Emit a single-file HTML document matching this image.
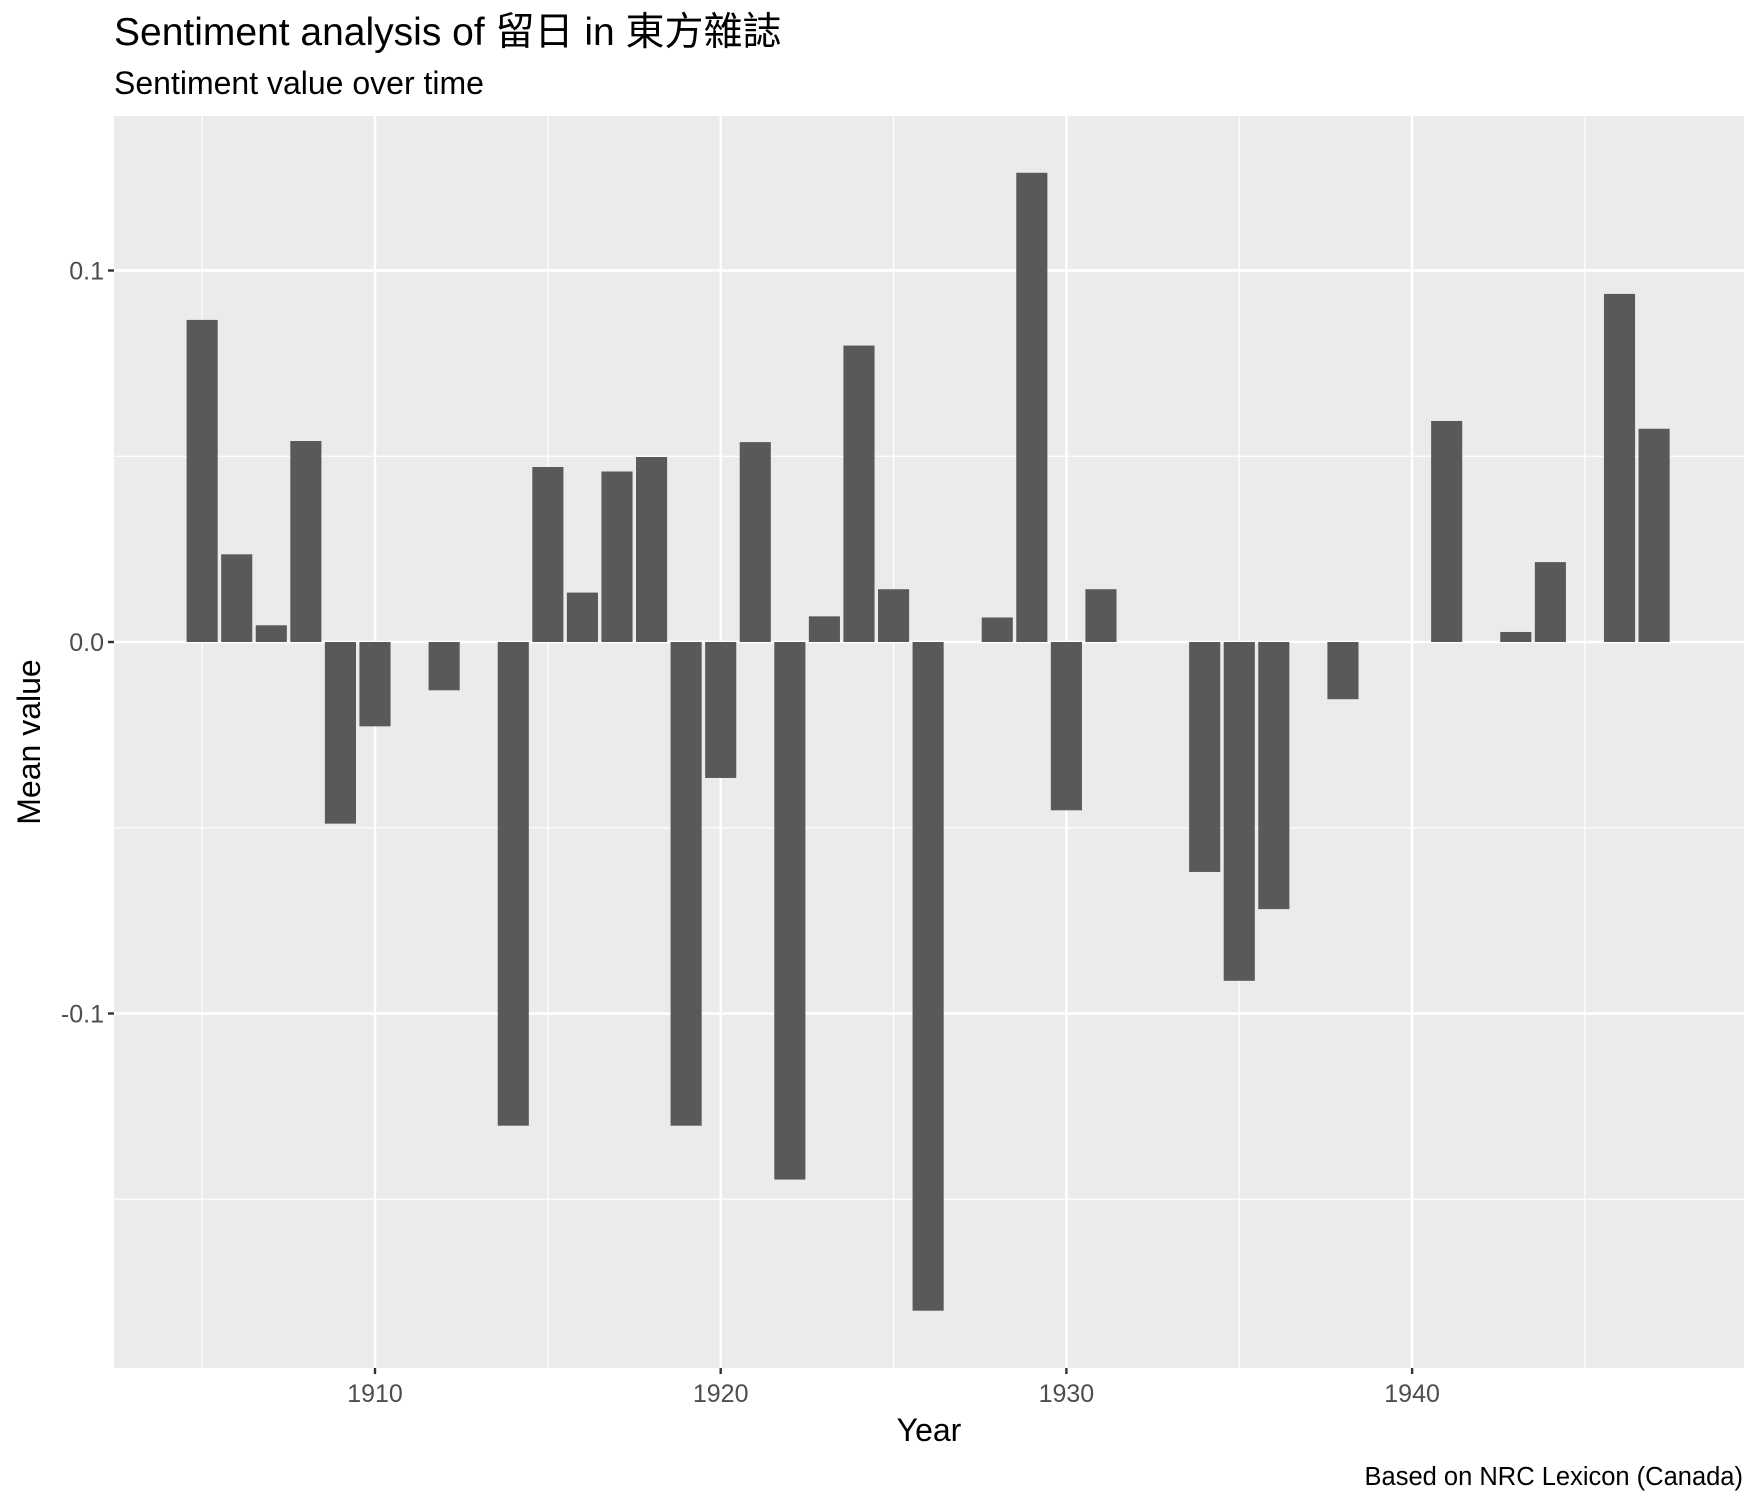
<!DOCTYPE html>
<html><head><meta charset="utf-8"><style>
html,body{margin:0;padding:0;background:#fff;}
svg text{font-family:"Liberation Sans","Noto Sans CJK TC",sans-serif;}
</style></head><body>
<svg id="chart" width="1760" height="1504" xmlns="http://www.w3.org/2000/svg">
<text x="114" y="45" font-size="39" fill="#000">Sentiment analysis of 留日 in 東方雜誌</text>
<text x="114" y="94" font-size="32" fill="#000">Sentiment value over time</text>
<rect x="114" y="116" width="1630" height="1252" fill="#ebebeb"/>
<g id="grid"></g>
<g id="bars"></g>
<g id="axes"></g>
<text x="929" y="1441" font-size="32" text-anchor="middle" fill="#000">Year</text>
<text transform="translate(40,742) rotate(-90)" font-size="32" text-anchor="middle" fill="#000">Mean value</text>
<text x="1743" y="1485" font-size="25.5" text-anchor="end" fill="#000">Based on NRC Lexicon (Canada)</text>
</svg>
<script>
const years = [1905,1906,1907,1908,1909,1910,1912,1914,1915,1916,1917,1918,1919,1920,1921,1922,1923,1924,1925,1926,1928,1929,1930,1931,1934,1935,1936,1938,1941,1943,1944,1946,1947];
const values = [0.0867,0.0236,0.0045,0.0541,-0.0489,-0.0227,-0.013,-0.1302,0.0471,0.0133,0.0459,0.0498,-0.1302,-0.0366,0.0538,-0.1447,0.0069,0.0798,0.0142,-0.180,0.0066,0.1263,-0.0453,0.0142,-0.0619,-0.0912,-0.0719,-0.0154,0.0595,0.0027,0.0215,0.0937,0.0574];
const xTicks = [1910,1920,1930,1940];
const xMinor = [1905,1915,1925,1935,1945];
const yTicks = [0.1,0.0,-0.1];
const yTickLabels = ["0.1","0.0","-0.1"];
const yMinor = [0.05,-0.05,-0.15];

const NS="http://www.w3.org/2000/svg";
const PL=114,PR=1744,PT=116,PB=1368;
function xs(y){return 375+(y-1910)*34.57;}
function ys(v){return 642-v*3715;}
function mk(tag,attrs,parent){const e=document.createElementNS(NS,tag);for(const k in attrs)e.setAttribute(k,attrs[k]);parent.appendChild(e);return e;}
const grid=document.getElementById('grid'),bars=document.getElementById('bars'),axes=document.getElementById('axes');
yMinor.forEach(v=>{const l=mk('line',{x1:PL,x2:PR,y1:ys(v),y2:ys(v),stroke:'#fff','stroke-width':1.2},grid);

});
xMinor.forEach(v=>{const l=mk('line',{x1:xs(v),x2:xs(v),y1:PT,y2:PB,stroke:'#fff','stroke-width':1.2},grid);

});
yTicks.forEach((v,i)=>{const l=mk('line',{x1:PL,x2:PR,y1:ys(v),y2:ys(v),stroke:'#fff','stroke-width':2.4},grid);


const t=mk('line',{x1:PL-6,x2:PL,y1:ys(v),y2:ys(v),stroke:'#333','stroke-width':2.4},axes);


const tx=mk('text',{x:PL-10,y:ys(v)+9,'font-size':25,'text-anchor':'end',fill:'#4d4d4d'},axes);tx.textContent=yTickLabels[i];

});
xTicks.forEach(v=>{const l=mk('line',{x1:xs(v),x2:xs(v),y1:PT,y2:PB,stroke:'#fff','stroke-width':2.4},grid);


const t=mk('line',{x1:xs(v),x2:xs(v),y1:PB,y2:PB+6,stroke:'#333','stroke-width':2.4},axes);


const tx=mk('text',{x:xs(v),y:PB+34,'font-size':25,'text-anchor':'middle',fill:'#4d4d4d'},axes);tx.textContent=v;

});
const bw=34.57*0.9;
years.forEach((y,i)=>{const v=values[i];const y0=ys(0),y1=ys(v);
const r=mk('rect',{x:xs(y)-bw/2,y:Math.min(y0,y1),width:bw,height:Math.abs(y1-y0),fill:'#595959'},bars);

});
</script>
</body></html>
